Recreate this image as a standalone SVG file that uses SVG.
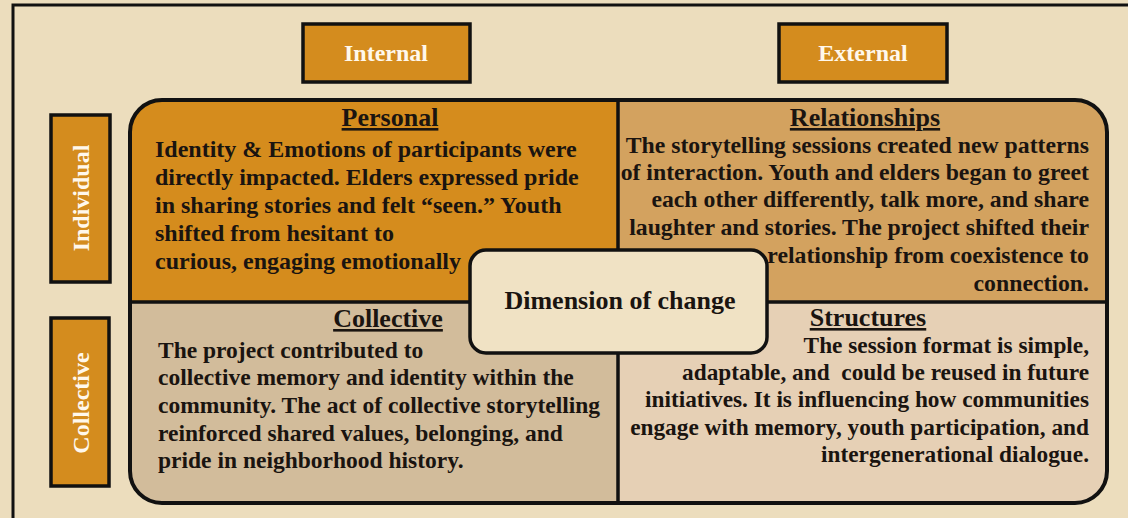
<svg xmlns="http://www.w3.org/2000/svg" width="1128" height="518" viewBox="0 0 1128 518">
<style>
.body{font-family:"Liberation Serif","Times New Roman",serif;font-weight:bold;font-size:24px;fill:#1a1410}
.title{font-family:"Liberation Serif","Times New Roman",serif;font-weight:bold;font-size:26px;fill:#1a1410;text-anchor:middle;text-decoration:underline}
.lbl{font-family:"Liberation Serif","Times New Roman",serif;font-weight:bold;font-size:24px;fill:#fff8ec;text-anchor:middle}
.box{fill:#d48c1e;stroke:#111;stroke-width:3.5}
.r{text-anchor:end}
#relationships .body{font-size:23.75px}
#collective .body{font-size:23.5px}
#structures .body{font-size:23.3px}
</style>
<rect x="0" y="0" width="1128" height="518" fill="#ecddbd"/>
<rect x="13" y="5" width="1130" height="530" fill="none" stroke="#111" stroke-width="3"/>
<g id="internal"><rect class="box" x="303" y="24" width="167" height="58"/><text class="lbl" x="386" y="61">Internal</text></g>
<g id="external"><rect class="box" x="779" y="24" width="168" height="58"/><text class="lbl" x="863" y="61">External</text></g>
<g id="individual"><rect class="box" x="51" y="115" width="59" height="167"/><text class="lbl" transform="translate(89,198) rotate(-90)">Individual</text></g>
<g id="collective-label"><rect class="box" x="51" y="318" width="58" height="168"/><text class="lbl" transform="translate(89,403) rotate(-90)">Collective</text></g>
<g id="matrix">
<clipPath id="mc"><rect x="130" y="100" width="977" height="403" rx="32"/></clipPath>
<g clip-path="url(#mc)">
<rect x="130" y="100" width="488" height="202" fill="#d58c1d"/>
<rect x="618" y="100" width="489" height="202" fill="#d3a25f"/>
<rect x="130" y="302" width="488" height="201" fill="#d2bc9b"/>
<rect x="618" y="302" width="489" height="201" fill="#e6d0b5"/>
</g>
<line x1="618" y1="100" x2="618" y2="503" stroke="#111" stroke-width="3.5"/>
<line x1="130" y1="302" x2="1107" y2="302" stroke="#111" stroke-width="3.5"/>
<rect x="130" y="100" width="977" height="403" rx="32" fill="none" stroke="#111" stroke-width="4"/>
</g>
<g id="personal">
<text class="title" x="390" y="126">Personal</text>
<text class="body" x="155" y="157">Identity &amp; Emotions of participants were</text>
<text class="body" x="155" y="185">directly impacted. Elders expressed pride</text>
<text class="body" x="155" y="213">in sharing stories and felt “seen.” Youth</text>
<text class="body" x="155" y="241">shifted from hesitant to</text>
<text class="body" x="155" y="269">curious, engaging emotionally</text>
</g>
<g id="relationships">
<text class="title" x="865" y="126">Relationships</text>
<text class="body r" x="1089" y="153">The storytelling sessions created new patterns</text>
<text class="body r" x="1089" y="180">of interaction. Youth and elders began to greet</text>
<text class="body r" x="1089" y="207">each other differently, talk more, and share</text>
<text class="body r" x="1089" y="235">laughter and stories. The project shifted their</text>
<text class="body r" x="1089" y="263">relationship from coexistence to</text>
<text class="body r" x="1089" y="291">connection.</text>
</g>
<g id="collective">
<text class="title" x="388" y="327">Collective</text>
<text class="body" x="158" y="358">The project contributed to</text>
<text class="body" x="158" y="385">collective memory and identity within the</text>
<text class="body" x="158" y="413">community. The act of collective storytelling</text>
<text class="body" x="158" y="441">reinforced shared values, belonging, and</text>
<text class="body" x="158" y="468">pride in neighborhood history.</text>
</g>
<g id="structures">
<text class="title" x="868" y="326">Structures</text>
<text class="body r" x="1089" y="353">The session format is simple,</text>
<text class="body r" x="1089" y="380" style="white-space:pre">adaptable, and  could be reused in future</text>
<text class="body r" x="1089" y="407">initiatives. It is influencing how communities</text>
<text class="body r" x="1089" y="435">engage with memory, youth participation, and</text>
<text class="body r" x="1089" y="462">intergenerational dialogue.</text>
</g>
<g id="center">
<rect x="470" y="250" width="297" height="103" rx="16" fill="#f0e2c4" stroke="#111" stroke-width="3.5"/>
<text x="620" y="309" font-family="Liberation Serif, Times New Roman, serif" font-weight="bold" font-size="26px" fill="#1a1410" text-anchor="middle">Dimension of change</text>
</g>
</svg>
